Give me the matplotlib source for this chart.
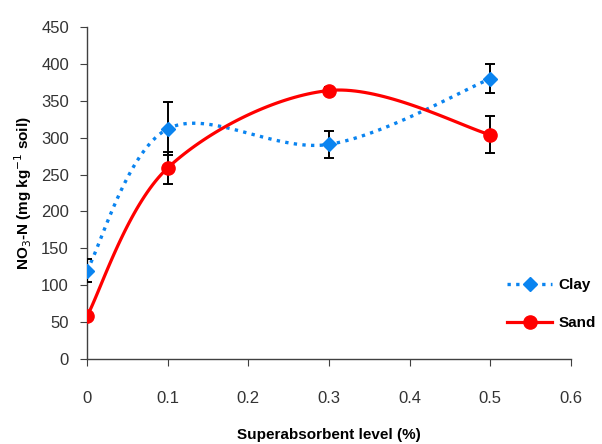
import numpy as np
import matplotlib
matplotlib.use("Agg")
import matplotlib.pyplot as plt
from matplotlib.lines import Line2D

plt.rcParams['font.family'] = ['Liberation Sans', 'DejaVu Sans']

# data
levels = [0, 0.1, 0.3, 0.5]
clay = [120, 312, 291, 380]
clay_err = [15, 36, 18, 20]
sand = [58, 259, 364, 304]
sand_err = [4, 22, 5, 25]

CLAY_COLOR = '#0A84F0'
SAND_COLOR = '#FF0000'


def smooth(xs, ys, n=40):
    # Excel-style smoothed line (Catmull-Rom bezier through the points)
    p = np.column_stack([xs, ys]).astype(float)
    pts = np.vstack([p[0], p, p[-1]])
    out = []
    t = np.linspace(0, 1, n)[:, None]
    for i in range(1, len(pts) - 2):
        p0, p1, p2, p3 = pts[i - 1], pts[i], pts[i + 1], pts[i + 2]
        c1 = p1 + (p2 - p0) / 6
        c2 = p2 - (p3 - p1) / 6
        seg = ((1 - t) ** 3) * p1 + 3 * ((1 - t) ** 2) * t * c1 + 3 * (1 - t) * t ** 2 * c2 + t ** 3 * p2
        out.append(seg if i == 1 else seg[1:])
    seg = np.vstack(out)
    return seg[:, 0], seg[:, 1]


fig = plt.figure(figsize=(6.02, 4.44), dpi=100)
ax = fig.add_axes([0.1445, 0.1914, 0.804, 0.7476])

cx, cy = smooth(levels, clay)
sx, sy = smooth(levels, sand)
ax.plot(cx, cy, linestyle=(0, (1, 1.6)), color=CLAY_COLOR, lw=2.4, zorder=2)
ax.plot(sx, sy, '-', color=SAND_COLOR, lw=2.3, zorder=2)

ax.errorbar(levels, clay, yerr=clay_err, fmt='none', ecolor='black', elinewidth=1.4, capsize=3.5, capthick=1.4, zorder=3)
ax.errorbar(levels, sand, yerr=sand_err, fmt='none', ecolor='black', elinewidth=1.4, capsize=3.5, capthick=1.4, zorder=3)
ax.plot(levels, clay, 'D', color=CLAY_COLOR, ms=7.5, mec=CLAY_COLOR, zorder=4)
ax.plot(levels, sand, 'o', color=SAND_COLOR, ms=9.5, mec=SAND_COLOR, zorder=4)

ax.set_xlim(0, 0.6)
ax.set_ylim(0, 450)
ax.set_xticks(np.arange(0, 0.61, 0.1))
ax.set_xticklabels(['0', '0.1', '0.2', '0.3', '0.4', '0.5', '0.6'])
ax.set_yticks(np.arange(0, 451, 50))

for s in ['top', 'right']:
    ax.spines[s].set_visible(False)
for s in ['left', 'bottom']:
    ax.spines[s].set_color('#404040')
    ax.spines[s].set_linewidth(1.0)
ax.tick_params(axis='both', direction='out', length=5, color='#404040', labelsize=12, labelcolor='#333333')
ax.tick_params(axis='y', pad=8)
ax.tick_params(axis='x', pad=18)

ax.set_xlabel('Superabsorbent level (%)', fontsize=11, fontweight='bold', labelpad=16)
ax.set_ylabel('NO$_3$-N (mg kg$^{-1}$ soil)', fontsize=11, fontweight='bold', labelpad=5)

handles = [
    Line2D([], [], linestyle=(0, (1, 1.6)), color=CLAY_COLOR, lw=2.4, marker='D', ms=7.5),
    Line2D([], [], linestyle='-', color=SAND_COLOR, lw=2.3, marker='o', ms=9.5),
]
ax.legend(handles, ['Clay', 'Sand'], loc='lower right', bbox_to_anchor=(1.08, 0.045), frameon=False,
          numpoints=1, handlelength=3.0, labelspacing=1.6, handletextpad=0.4,
          prop={'weight': 'bold', 'size': 11})

fig.savefig('out.png', dpi=100)
